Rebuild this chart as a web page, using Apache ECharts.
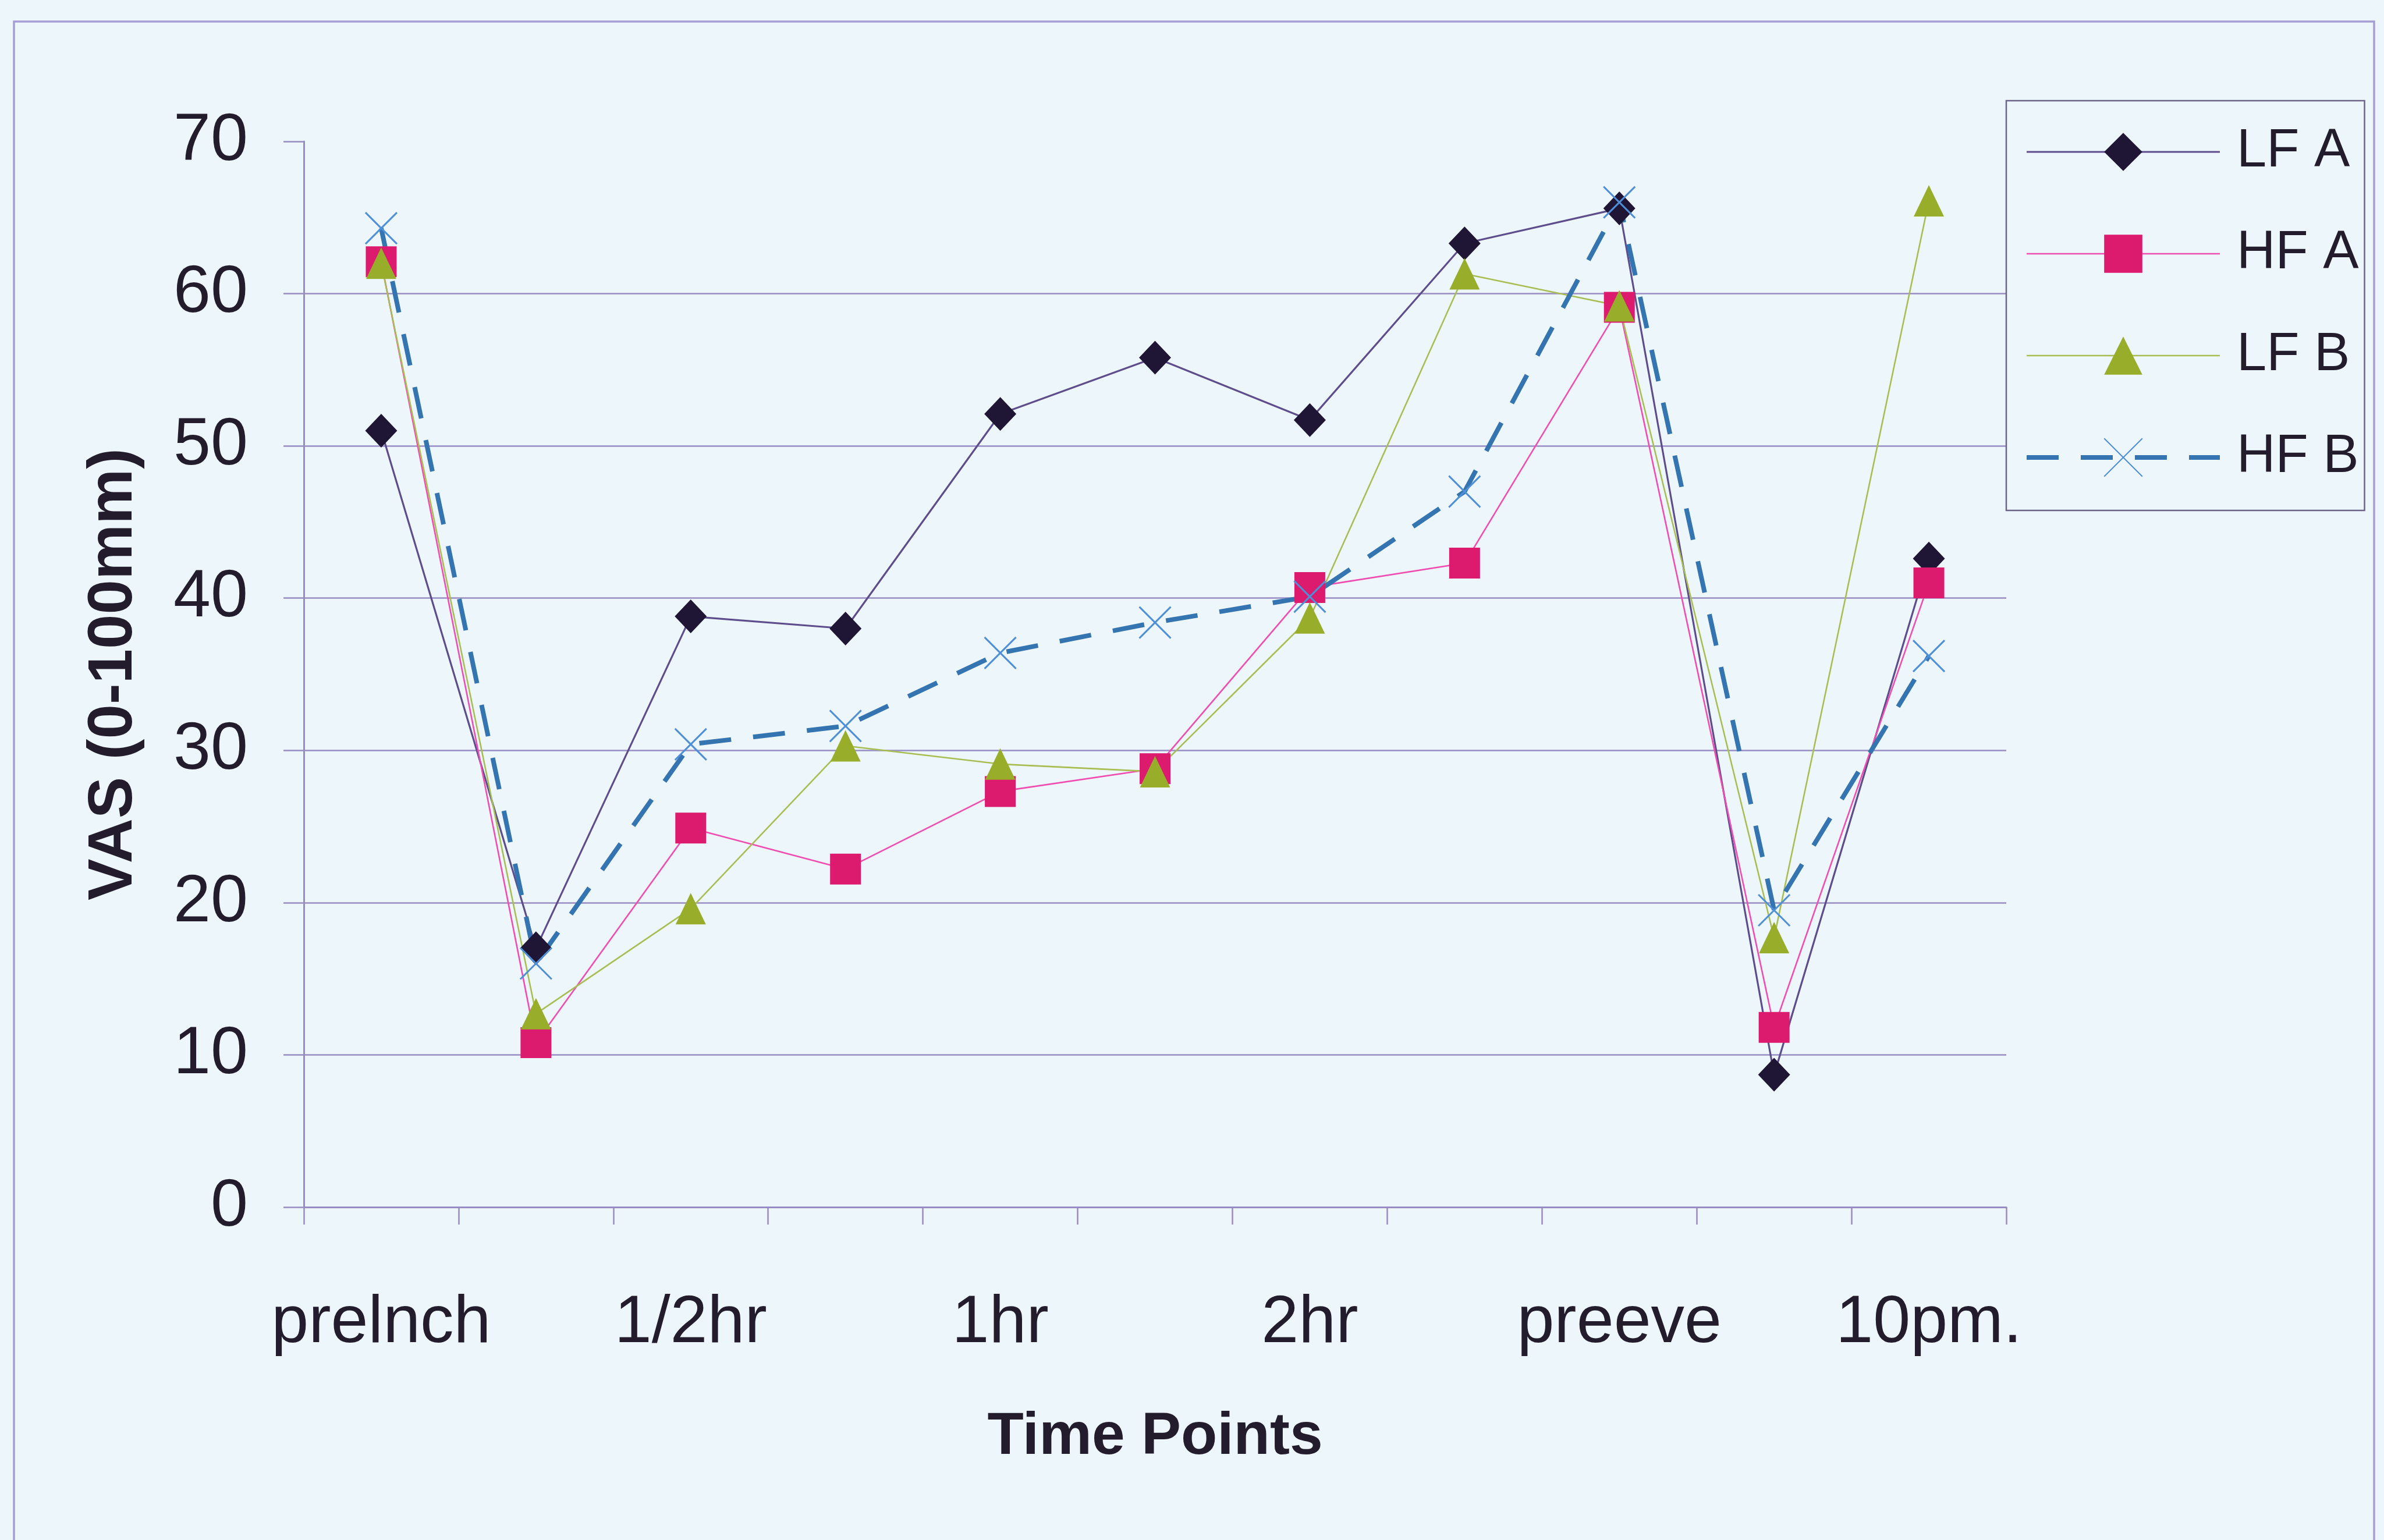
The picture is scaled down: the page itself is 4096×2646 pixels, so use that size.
<!DOCTYPE html>
<html>
<head>
<meta charset="utf-8">
<script src="https://cdn.jsdelivr.net/npm/echarts@6/dist/echarts.min.js"></script>
<style>
  html, body { margin: 0; padding: 0; background: #edf7fb; }
  #chart { width: 4096px; height: 2646px; }
</style>
</head>
<body>
<div id="chart"></div>
<script>
// Categories (every other label shown in the original)
const categories = ['prelnch', '', '1/2hr', '', '1hr', '', '2hr', '', 'preeve', '', '10pm.'];
const yTicks = [0, 10, 20, 30, 40, 50, 60, 70];
const seriesNames = ['LF A', 'HF A', 'LF B', 'HF B'];

// Series values (VAS, 0-100mm)
const lfA = [51.0, 17.0, 38.8, 38.0, 52.1, 55.8, 51.7, 63.3, 65.6, 8.7, 42.6];
const hfA = [62.1, 10.8, 24.9, 22.2, 27.3, 28.8, 40.7, 42.3, 59.1, 11.8, 41.0];
const lfB = [62.0, 12.7, 19.6, 30.3, 29.1, 28.6, 38.7, 61.3, 59.2, 17.7, 66.1];
const hfB = [64.3, 16.0, 30.4, 31.6, 36.4, 38.4, 40.1, 47.0, 66.0, 19.5, 36.2];

const FONT = "'Liberation Sans', Arial, sans-serif";
const TEXT = '#231c2c';
const GRIDC = '#978cc4';

const chart = echarts.init(document.getElementById('chart'), null, { renderer: 'canvas' });

chart.setOption({
  animation: false,
  backgroundColor: '#edf7fb',
  textStyle: { fontFamily: FONT, color: TEXT },
  graphic: [{
    type: 'rect',
    shape: { x: 24, y: 37, width: 4055, height: 2700 },
    style: { fill: 'none', stroke: '#a49dd6', lineWidth: 3.5 },
    silent: true, z: -1
  }],
  grid: { left: 522, top: 243, width: 2925, height: 1831 },
  legend: {
    orient: 'vertical',
    left: 3447, top: 173,
    padding: [42, 10, 45, 31],
    itemWidth: 332, itemHeight: 82, itemGap: 83, itemTextGap: 62,
    borderColor: '#6a6488', borderWidth: 2.5,
    textStyle: { fontFamily: FONT, fontSize: 92, color: TEXT, padding: [0, 0, 0, 24] },
    data: [
      { name: seriesNames[0], lineStyle: { width: 3.2 } },
      { name: seriesNames[1], lineStyle: { width: 2.6 } },
      { name: seriesNames[2], lineStyle: { width: 2.6 } },
      { name: seriesNames[3], lineStyle: { width: 8 } }
    ]
  },
  xAxis: {
    type: 'category',
    data: categories,
    boundaryGap: true,
    name: 'Time Points',
    nameLocation: 'middle',
    nameGap: 345,
    nameTextStyle: { fontFamily: FONT, fontSize: 102, fontWeight: 'bold', color: TEXT },
    axisLine: { show: true, lineStyle: { color: GRIDC, width: 3 } },
    axisTick: { show: true, interval: 0, length: 30, lineStyle: { color: GRIDC, width: 2.5 } },
    axisLabel: { interval: 0, margin: 143, fontFamily: FONT, fontSize: 115, color: TEXT },
    splitLine: { show: false }
  },
  yAxis: {
    type: 'value',
    min: yTicks[0], max: yTicks[yTicks.length - 1], interval: 10,
    name: 'VAS (0-100mm)',
    nameLocation: 'middle',
    nameGap: 272,
    nameTextStyle: { fontFamily: FONT, fontSize: 107, fontWeight: 'bold', color: TEXT },
    axisLine: { show: true, lineStyle: { color: GRIDC, width: 3 } },
    axisTick: { show: true, length: 35, inside: false, lineStyle: { color: GRIDC, width: 2.5 } },
    axisLabel: { margin: 96, fontFamily: FONT, fontSize: 115, color: TEXT },
    splitLine: { show: true, showMaxLine: false, lineStyle: { color: GRIDC, width: 2.5 } }
  },
  series: [
    {
      name: seriesNames[0], type: 'line', data: lfA,
      symbol: 'diamond', symbolSize: [55, 58],
      lineStyle: { color: '#5e4d8c', width: 3.2 },
      itemStyle: { color: '#1f1535' }
    },
    {
      name: seriesNames[1], type: 'line', data: hfA,
      symbol: 'rect', symbolSize: 53,
      lineStyle: { color: '#f04cb2', width: 2.6 },
      itemStyle: { color: '#dc1a6e' }
    },
    {
      name: seriesNames[2], type: 'line', data: lfB,
      symbol: 'triangle', symbolSize: [52, 54],
      lineStyle: { color: '#a8bd52', width: 2.6 },
      itemStyle: { color: '#98ad2a' }
    },
    {
      name: seriesNames[3], type: 'line', data: hfB,
      symbol: 'path://M0,0L10,10M10,0L0,10', symbolSize: 54,
      lineStyle: { color: '#3474b0', width: 8, type: [55, 38] },
      itemStyle: { color: 'rgba(0,0,0,0)', borderColor: '#4e8fd8', borderWidth: 3 }
    }
  ]
});
</script>
</body>
</html>
